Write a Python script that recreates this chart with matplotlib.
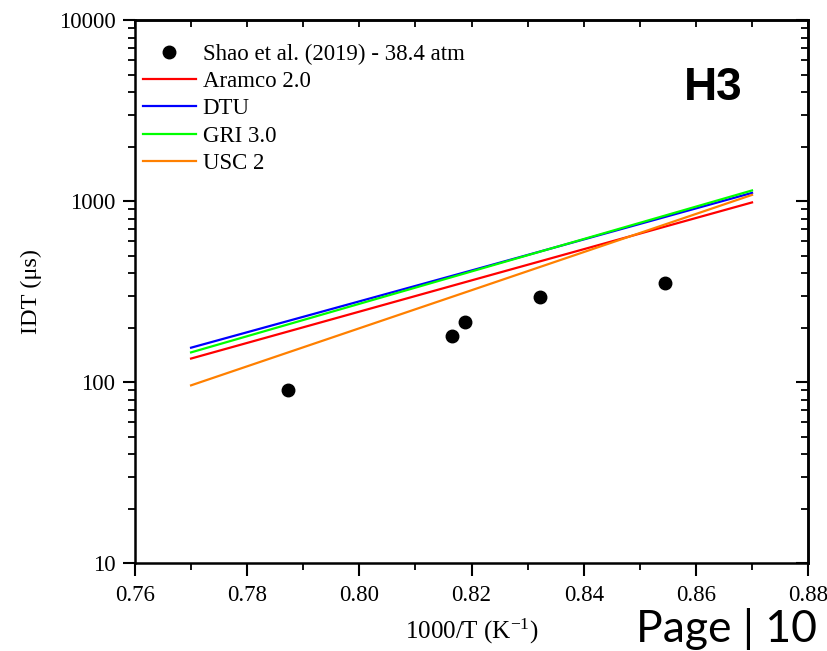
import matplotlib
matplotlib.use("Agg")
import matplotlib.pyplot as plt
from matplotlib.ticker import FixedLocator, LogLocator, FuncFormatter, MultipleLocator, NullFormatter

# Measured ignition delay times (Shao et al. 2019, 38.4 atm)
exp_x = [0.7872, 0.8166, 0.8188, 0.8322, 0.8545]
exp_idt = [90, 180, 214, 295, 352]

# Mechanism predictions, 1000/T vs IDT (us)
model_x = [0.77, 0.82, 0.87]
aramco_idt = [135, 365, 984]
dtu_idt = [155, 414, 1111]
gri_idt = [146, 409, 1146]
usc_idt = [96, 322, 1083]

x_ticks = [0.76, 0.78, 0.80, 0.82, 0.84, 0.86, 0.88]
y_ticks = [10, 100, 1000, 10000]

serif = "Liberation Serif"
plt.rcParams["mathtext.fontset"] = "custom"
plt.rcParams["mathtext.rm"] = serif
plt.rcParams["mathtext.it"] = serif + ":italic"

fig = plt.figure(figsize=(8.28, 6.51), dpi=100)
ax = fig.add_axes([0.163, 0.135, 0.813, 0.834])

ax.plot(model_x, aramco_idt, color="#ff0000", lw=1.6, label="Aramco 2.0", zorder=2)
ax.plot(model_x, dtu_idt, color="#0000ff", lw=1.6, label="DTU", zorder=2)
ax.plot(model_x, gri_idt, color="#00ff00", lw=1.6, label="GRI 3.0", zorder=2)
ax.plot(model_x, usc_idt, color="#ff8000", lw=1.6, label="USC 2", zorder=2)
ax.plot(exp_x, exp_idt, "o", color="black", ms=9, ls="none",
        label="Shao et al. (2019) - 38.4 atm", zorder=3)

ax.set_yscale("log")
ax.set_xlim(0.76, 0.88)
ax.set_ylim(10, 10000)

ax.xaxis.set_major_locator(FixedLocator(x_ticks))
ax.xaxis.set_minor_locator(MultipleLocator(0.01))
ax.xaxis.set_major_formatter(FuncFormatter(lambda v, p: f"{v:.2f}"))
ax.yaxis.set_major_locator(FixedLocator(y_ticks))
ax.yaxis.set_minor_locator(LogLocator(base=10, subs=range(2, 10)))
ax.yaxis.set_major_formatter(FuncFormatter(lambda v, p: f"{int(round(v))}"))
ax.yaxis.set_minor_formatter(NullFormatter())

for sp in ax.spines.values():
    sp.set_linewidth(1.8)

ax.tick_params(which="major", direction="out", length=9, width=1.5,
               labelsize=16.5, top=False, right=False)
ax.tick_params(axis="x", which="major", pad=6.5)
ax.tick_params(axis="y", which="major", pad=5)
ax.tick_params(which="minor", direction="out", length=5, width=1.3,
               top=False, right=False)
for lab in ax.get_xticklabels() + ax.get_yticklabels():
    lab.set_fontfamily(serif)

# inward ticks on top and right edges
top = ax.secondary_xaxis("top")
top.xaxis.set_major_locator(FixedLocator(x_ticks))
top.xaxis.set_minor_locator(MultipleLocator(0.01))
top.tick_params(which="both", direction="in", length=5, width=1.3,
                labeltop=False)
top.spines["top"].set_linewidth(1.8)

right = ax.secondary_yaxis("right")
right.yaxis.set_major_locator(FixedLocator(y_ticks))
right.yaxis.set_minor_locator(LogLocator(base=10, subs=range(2, 10)))
right.tick_params(which="major", direction="in", length=9, width=1.5,
                  labelright=False)
right.tick_params(which="minor", direction="in", length=5, width=1.3,
                  labelright=False)
right.yaxis.set_minor_formatter(NullFormatter())
right.spines["right"].set_linewidth(1.8)

ax.set_xlabel("1000/T (K$^{\\mathrm{-1}}$)", fontsize=18, family=serif, labelpad=8)
ax.set_ylabel("IDT (\u03bcs)", fontsize=17.5, family=serif, labelpad=12)

handles, labels = ax.get_legend_handles_labels()
order = [4, 0, 1, 2, 3]
ax.legend([handles[i] for i in order], [labels[i] for i in order],
          loc="upper left", frameon=False, prop={"family": serif, "size": 16.5},
          handlelength=2.3, handletextpad=0.3, labelspacing=0.28,
          borderpad=0.1, borderaxespad=0.25, bbox_to_anchor=(0.0, 0.972))

ax.text(0.859, 0.875, "H3", transform=ax.transAxes, ha="center", va="center",
        fontsize=33, fontweight="bold", family="Liberation Sans")

fig.text(0.987, 1 - 642 / 651, "Page | 10", ha="right", va="baseline",
         fontsize=32, family="Lato")

fig.savefig("out.png", dpi=100)
